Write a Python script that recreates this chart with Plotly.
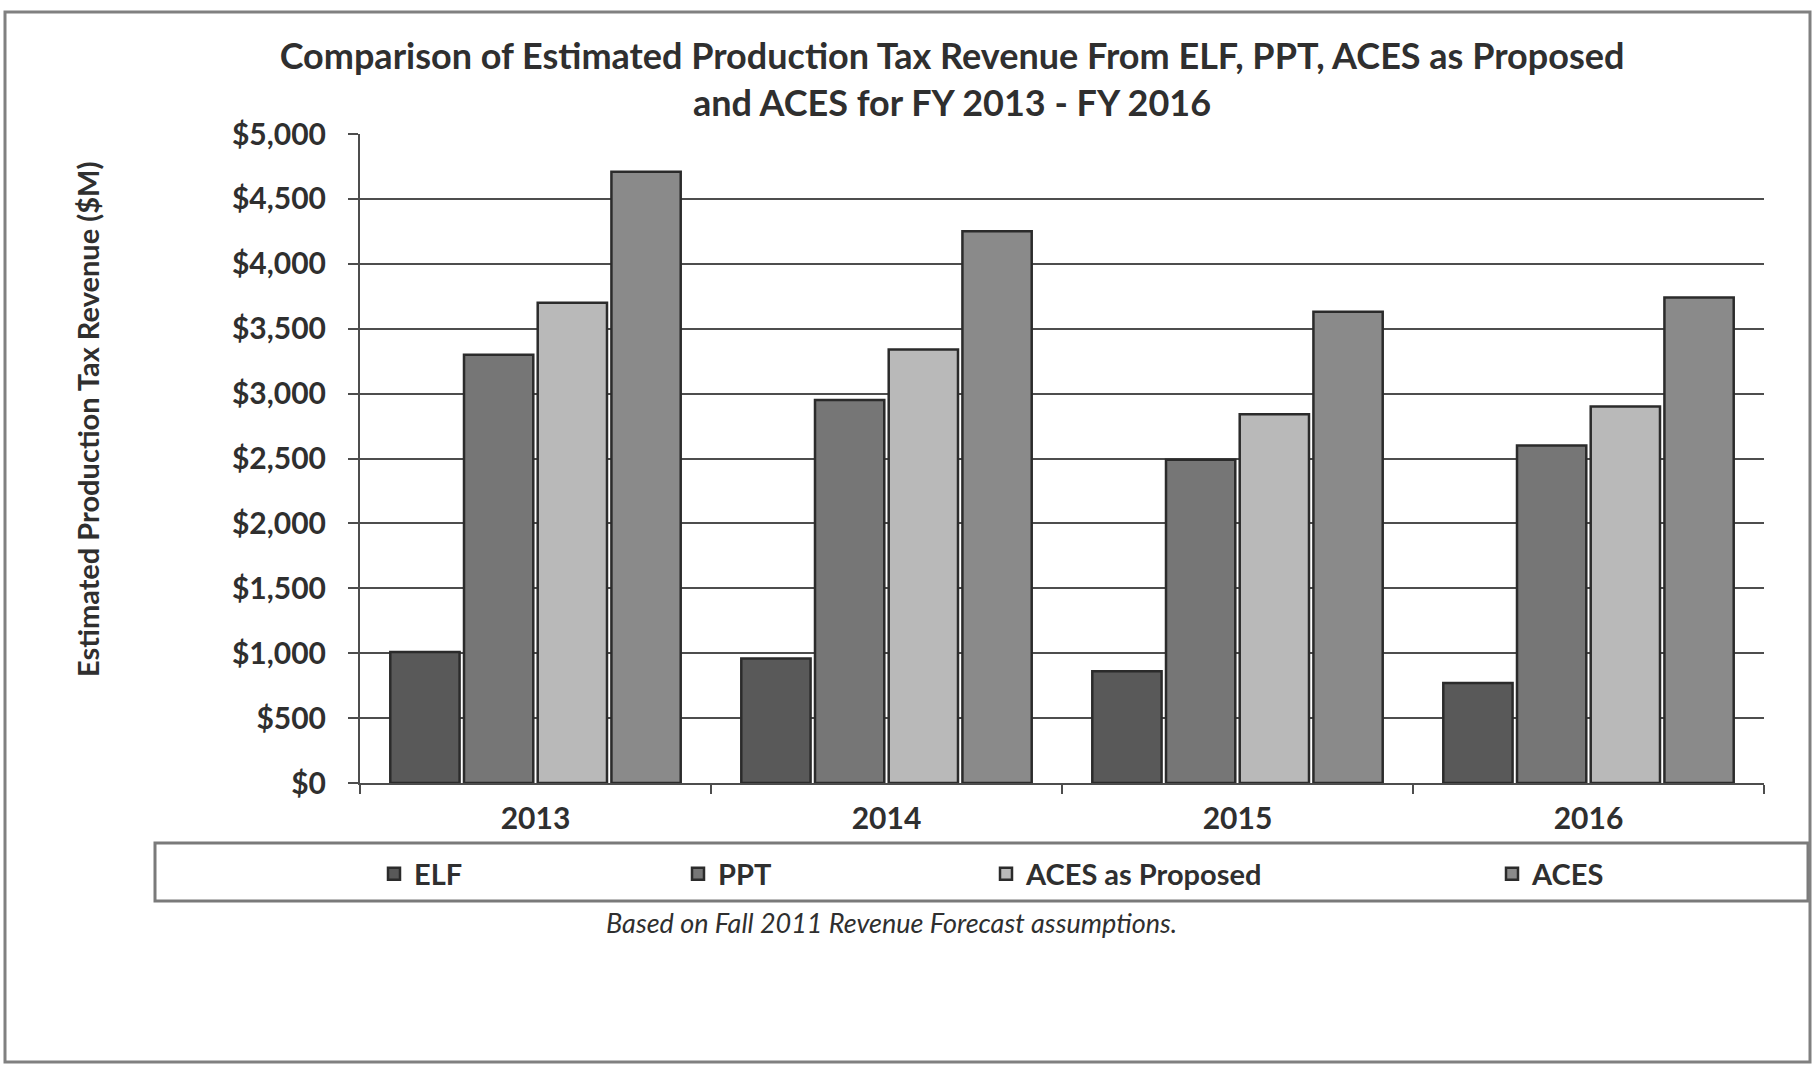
import plotly.graph_objects as go

# Fiscal years on the category axis
years = ["2013", "2014", "2015", "2016"]

# Estimated production tax revenue, $ millions
elf = [1010, 960, 860, 770]
ppt = [3300, 2950, 2490, 2600]
aces_proposed = [3700, 3340, 2840, 2900]
aces = [4710, 4250, 3630, 3740]

series_names = ["ELF", "PPT", "ACES as Proposed", "ACES"]
series_values = [elf, ppt, aces_proposed, aces]
series_colors = ["#595959", "#767676", "#b9b9b9", "#8a8a8a"]

y_ticks = [0, 500, 1000, 1500, 2000, 2500, 3000, 3500, 4000, 4500, 5000]
y_tick_text = ["$0", "$500", "$1,000", "$1,500", "$2,000", "$2,500",
               "$3,000", "$3,500", "$4,000", "$4,500", "$5,000"]

W, H = 1817, 1067
L, R, T, B = 360, 1764, 134, 783  # plot area in pixels


def px_x(p):
    return (p - L) / (R - L)


def px_y(p):
    return (B - p) / (B - T)


FONT = "Lato"
TXT = "#2f2f2f"

fig = go.Figure()
legend_ids = ["legend", "legend2", "legend3", "legend4"]
for name, vals, col, lg in zip(series_names, series_values, series_colors, legend_ids):
    fig.add_trace(go.Bar(
        x=years, y=vals, name=name,
        marker=dict(color=col, line=dict(color="#2b2b2b", width=2.5)),
        legend=lg,
    ))

legend_x = [374, 678, 986, 1492]
legend_common = dict(
    orientation="h", yanchor="middle", xanchor="left",
    bgcolor="rgba(0,0,0,0)", borderwidth=0,
    font=dict(family=FONT, size=29, color=TXT, weight="bold"),
    itemwidth=30,
)
layout_legends = {}
for lg, lx in zip(legend_ids, legend_x):
    layout_legends[lg] = dict(x=px_x(lx), y=px_y(874), **legend_common)

shapes = [
    # legend frame
    dict(type="rect", xref="paper", yref="paper",
         x0=px_x(155), x1=px_x(1808), y0=px_y(843), y1=px_y(901),
         line=dict(color="#7a7a7a", width=3), layer="below"),
    # outer frame
    dict(type="rect", xref="paper", yref="paper",
         x0=px_x(5), x1=px_x(1810), y0=px_y(12), y1=px_y(1062),
         line=dict(color="#808080", width=3), layer="below"),
]

annotations = [
    dict(text="Estimated Production Tax Revenue ($M)", textangle=-90,
         xref="paper", yref="paper", x=px_x(87), y=px_y(420),
         showarrow=False, xanchor="center", yanchor="middle",
         font=dict(family=FONT, size=29, color=TXT, weight="bold")),
    dict(text="<i>Based on Fall 2011 Revenue Forecast assumptions.</i>",
         xref="paper", yref="paper", x=px_x(891), y=px_y(922),
         showarrow=False, xanchor="center", yanchor="middle",
         font=dict(family=FONT, size=27, color=TXT)),
]

fig.update_layout(
    width=W, height=H,
    margin=dict(l=L, r=W - R, t=T, b=H - B, autoexpand=False),
    paper_bgcolor="white", plot_bgcolor="white",
    title=dict(
        text="Comparison of Estimated Production Tax Revenue From ELF, PPT, ACES as Proposed<br>and ACES for FY 2013 - FY 2016",
        x=px_x(952), xref="paper", xanchor="center",
        y=1 - 69 / H, yref="container", yanchor="middle",
        font=dict(family=FONT, size=36, color=TXT, weight="bold"),
    ),
    barmode="group", bargap=0.16, bargroupgap=0.06,
    showlegend=True,
    shapes=shapes, annotations=annotations,
    **layout_legends,
)

fig.update_yaxes(
    range=[0, 5000], tickvals=y_ticks, ticktext=y_tick_text,
    showgrid=True, gridcolor="#4d4d4d", gridwidth=1.5,
    showline=True, linecolor="#4d4d4d", linewidth=2,
    ticks="outside", ticklen=10, tickcolor="#4d4d4d", tickwidth=1.5,
    ticklabelstandoff=16,
    tickfont=dict(family=FONT, size=30, color=TXT, weight="bold"),
    zeroline=False,
)
fig.update_xaxes(
    showline=True, linecolor="#4d4d4d", linewidth=2,
    ticks="outside", tickson="boundaries", ticklen=9,
    tickcolor="#4d4d4d", tickwidth=1.5,
    ticklabelstandoff=8,
    tickfont=dict(family=FONT, size=30, color=TXT, weight="bold"),
)

fig.write_html("out.html")
